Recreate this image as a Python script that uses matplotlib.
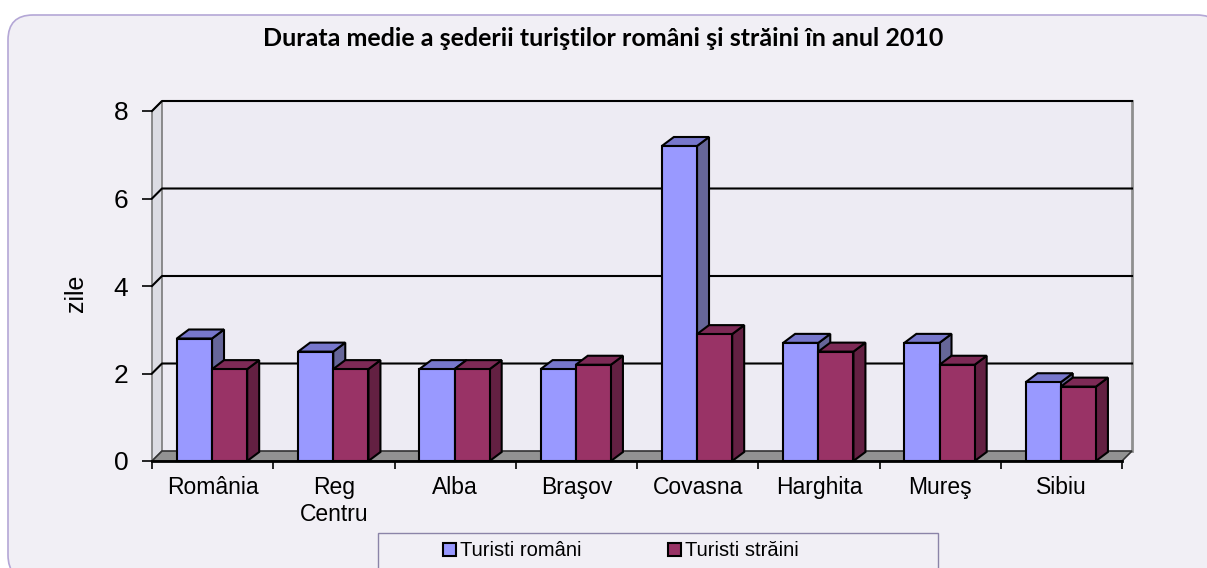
import matplotlib
matplotlib.use("Agg")
import matplotlib.pyplot as plt
from matplotlib.patches import Polygon, Rectangle, FancyBboxPatch, Patch

# ---- data ----
categories = ["România", "Reg\nCentru", "Alba", "Braşov", "Covasna", "Harghita", "Mureş", "Sibiu"]
turisti_romani = [2.8, 2.5, 2.1, 2.1, 7.2, 2.7, 2.7, 1.8]
turisti_straini = [2.1, 2.1, 2.1, 2.2, 2.9, 2.5, 2.2, 1.7]
y_ticks = [0, 2, 4, 6, 8]
series_names = ["Turisti români", "Turisti străini"]
title = "Durata medie a şederii turiştilor români şi străini în anul 2010"

# ---- style: (front, top, side) colours per series ----
BLUE = ("#9999FF", "#7777CC", "#666699")
RED = ("#993366", "#7D2A56", "#632042")

W, H = 1207, 568
fig = plt.figure(figsize=(W / 100, H / 100), dpi=100)
fig.patch.set_facecolor("white")

# background panel with rounded border (pixel coordinates)
bg = fig.add_axes([0, 0, 1, 1])
bg.set_xlim(0, W)
bg.set_ylim(H, 0)
bg.axis("off")
bg.add_patch(FancyBboxPatch((8, 15), 1214, 565, boxstyle="round,pad=0,rounding_size=25",
                            fc="#F1EFF5", ec="#B4A7D6", lw=1.2))
bg.add_patch(Rectangle((378, 533), 560, 60, fc="#F1EFF5", ec="#8B84A8", lw=1.0))

# main plot: axes box = front plane of the 3D chart
ax = fig.add_axes([152 / W, 1 - 461 / H, 970 / W, 350 / H])
ax.set_xlim(0, len(categories))
ax.set_ylim(0, 8)
ax.set_facecolor("none")
for sp in ax.spines.values():
    sp.set_visible(False)

n = len(categories)
px_x = 970 / n
px_y = 350 / 8
wdx, wdy = 10 / px_x, 10 / px_y      # wall depth
bdx, bdy = 12 / px_x, 9 / px_y       # bar depth

# back wall, left wall, floor
ax.add_patch(Rectangle((wdx, wdy), n, 8, fc="#EDEBF3", ec="none", zorder=0, clip_on=False))
ax.add_patch(Polygon([(0, 0), (wdx, wdy), (wdx, 8 + wdy), (0, 8)], closed=True,
                     fc="#DCDCE3", ec="#7A7A7A", lw=1.2, zorder=1, clip_on=False))
ax.plot([n + wdx, n + wdx], [wdy, 8 + wdy], color="#8F8F8F", lw=2, zorder=1, clip_on=False)
for v in y_ticks[1:]:
    ax.plot([0, wdx, n + wdx], [v, v + wdy, v + wdy], color="black", lw=1.5,
            zorder=1, clip_on=False)
ax.add_patch(Polygon([(0, 0), (n, 0), (n + wdx, wdy), (wdx, wdy)], closed=True,
                     fc="#929292", ec="#333333", lw=1.2, zorder=2, clip_on=False))
ax.plot([0, n], [0, 0], color="black", lw=2, zorder=2, clip_on=False)


def bar3d(x0, h, colors, width=0.29):
    front, top, side = colors
    kw = dict(ec="black", lw=1.5, joinstyle="miter", zorder=3, clip_on=False)
    ax.add_patch(Polygon([(x0 + width, 0), (x0 + width + bdx, bdy),
                          (x0 + width + bdx, h + bdy), (x0 + width, h)], fc=side, **kw))
    ax.add_patch(Polygon([(x0, h), (x0 + width, h), (x0 + width + bdx, h + bdy),
                          (x0 + bdx, h + bdy)], fc=top, **kw))
    ax.add_patch(Rectangle((x0, 0), width, h, fc=front, **kw))


for i, (r, s) in enumerate(zip(turisti_romani, turisti_straini)):
    bar3d(i + 0.205, r, BLUE)
    bar3d(i + 0.495, s, RED)

# axes ticks and labels
ax.set_yticks(y_ticks)
ax.tick_params(axis="y", direction="out", length=7, width=1.2, pad=10, labelsize=19)
ax.set_xticks(range(n + 1))
ax.set_xticklabels([])
ax.tick_params(axis="x", which="major", direction="out", length=6, width=1.2)
ax.set_xticks([i + 0.5 for i in range(n)], minor=True)
ax.set_xticklabels(categories, minor=True, fontsize=16.5, family="Liberation Sans")
ax.tick_params(axis="x", which="minor", length=0, pad=11)
for lab in ax.get_yticklabels():
    lab.set_family("Liberation Sans")

ax.set_ylabel("zile", fontsize=18, family="Liberation Sans")
ax.yaxis.set_label_coords(-0.066, 0.48)

fig.text(603 / W, 1 - 38 / H, title, ha="center", va="center", fontsize=18,
         fontweight="bold", family="Lato")

handles = [Patch(fc=BLUE[0], ec="black", lw=1.5), Patch(fc=RED[0], ec="black", lw=1.5)]
ax.legend(handles, series_names, loc="center", bbox_to_anchor=(621 / W, 1 - 551 / H),
          bbox_transform=fig.transFigure, ncol=2, frameon=False,
          prop=dict(family="Liberation Sans", size=14.5),
          handlelength=0.65, handleheight=0.65, handletextpad=0.2, columnspacing=4.3)

fig.savefig("out.png", dpi=100)
